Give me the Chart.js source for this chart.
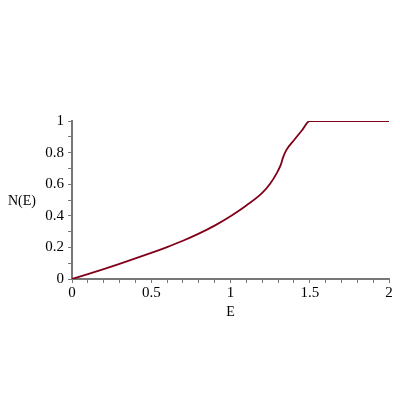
<!DOCTYPE html>
<html><head><meta charset="utf-8">
<script src="https://cdn.jsdelivr.net/npm/chart.js@4"></script>
<style>html,body{margin:0;padding:0;background:#fff}#w{width:400px;height:400px}</style>
</head><body><div id="w"><canvas id="c" width="400" height="400"></canvas></div>
<script>
const energies = [0,0.1,0.2,0.3,0.4,0.5,0.6,0.7,0.8,0.9,1.0,1.1,1.2,1.25,1.29,1.317,1.33,1.352,1.40,1.45,1.5,2];
const nValues  = [0,0.031,0.063,0.096,0.130,0.165,0.202,0.242,0.287,0.338,0.397,0.465,0.545,0.603,0.667,0.722,0.765,0.816,0.878,0.940,1,1];
const xTickLabels = [0,0.5,1,1.5,2];
const yTickLabels = [0,0.2,0.4,0.6,0.8,1];
const xTitle = 'E', yTitle = 'N(E)';

const FONT = {family:'"Liberation Serif", serif', size:15};
const near = (v, list) => list.some(t => Math.abs(t - v) < 1e-6);

const yTitlePlugin = {
  id:'yTitle',
  afterDraw(chart){
    const ctx = chart.ctx, y = chart.scales.y;
    ctx.save();
    ctx.font = '14px "Liberation Serif", serif';
    ctx.fillStyle = '#000';
    ctx.textAlign = 'center'; ctx.textBaseline = 'middle';
    ctx.fillText(yTitle, 22, y.getPixelForValue(0.49));
    ctx.restore();
  }
};

new Chart(document.getElementById('c'), {
  type:'line',
  data:{datasets:[{data: energies.map((e,i)=>({x:e,y:nValues[i]})),
    borderColor:'rgb(128,0,24)', borderWidth:1.8, pointRadius:0,
    cubicInterpolationMode:'monotone', fill:false}]},
  options:{
    responsive:false, animation:false,
    layout:{padding:{left:0,top:121,right:11,bottom:79}},
    plugins:{legend:{display:false}, tooltip:{enabled:false}},
    scales:{
      x:{type:'linear', min:0, max:2,
        afterFit(s){ s.height = 42; },
        ticks:{stepSize:0.1, autoSkip:false, maxRotation:0, color:'#000', font:FONT, padding:1,
          callback:v=> near(v,xTickLabels) ? String(+v.toFixed(1)) : ''},
        grid:{drawOnChartArea:false, tickLength:4, color:'#777', tickWidth:1},
        border:{color:'#777', width:2},
        title:{display:true, text:xTitle, color:'#000', font:{family:'"Liberation Serif", serif', size:14}, padding:{top:0,bottom:0}}
      },
      y:{type:'linear', min:0, max:1,
        afterFit(s){ s.width = 72; },
        ticks:{stepSize:0.1, autoSkip:false, color:'#000', font:FONT, padding:4,
          callback:v=> near(v,yTickLabels) ? String(+v.toFixed(1)) : ''},
        grid:{drawOnChartArea:false, tickLength:4, color:'#777', tickWidth:1},
        border:{color:'#777', width:2}
      }
    }
  },
  plugins:[yTitlePlugin]
});
</script></body></html>
